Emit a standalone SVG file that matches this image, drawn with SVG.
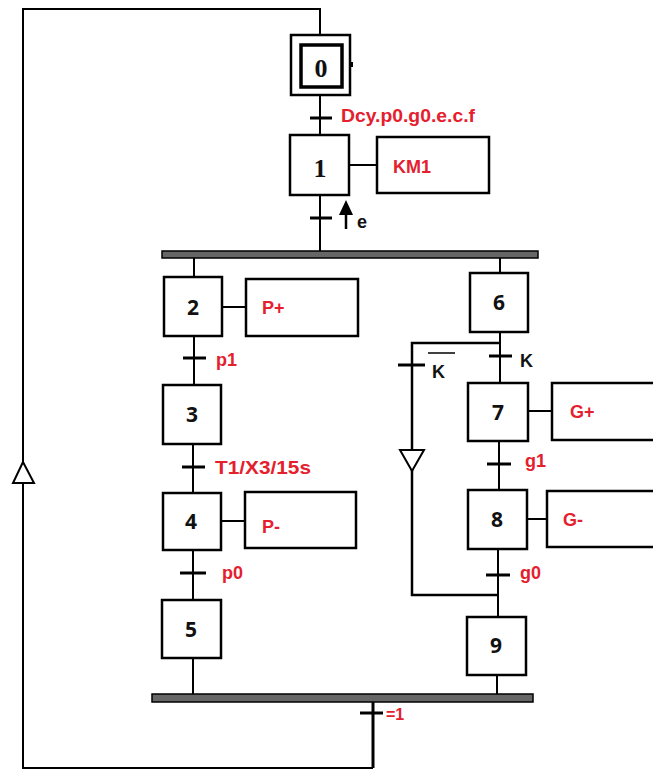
<svg xmlns="http://www.w3.org/2000/svg" width="653" height="770" viewBox="0 0 653 770">
<style>
.step{fill:#fff;stroke:#000;stroke-width:2.5}
.act{fill:#fff;stroke:#000;stroke-width:2.5}
.ln{fill:none;stroke:#000;stroke-width:2}
.tk{fill:none;stroke:#000;stroke-width:3}
.num{font-family:"Noto Sans","Liberation Sans",sans-serif;font-weight:bold;font-size:21px;fill:#111;text-anchor:middle}
.numS{font-family:"Liberation Serif",serif;font-weight:bold;font-size:26px;fill:#111;text-anchor:middle}
.lab{font-family:"Liberation Sans",Arial,sans-serif;font-weight:bold;font-size:18px;fill:#e5202e}
.labk{font-family:"Liberation Sans",Arial,sans-serif;font-weight:bold;font-size:18px;fill:#111}
.bar{fill:#666;stroke:#000;stroke-width:1.5}
</style>
<rect width="653" height="770" fill="#fff"/>
<g id="connectors">
  <polyline class="ln" points="320,35 320,9 23,9 23,768 373,768"/>
  <polygon points="23,462 13,483 34,483" fill="#fff" stroke="#000" stroke-width="2"/>
  <line class="ln" x1="320" y1="95" x2="320" y2="135"/>
  <line class="tk" x1="310" y1="118" x2="332" y2="118"/>
  <line class="ln" x1="320" y1="195" x2="320" y2="251"/>
  <line class="tk" x1="310" y1="218" x2="332" y2="218"/>
  <line class="ln" x1="349" y1="165" x2="377" y2="165"/>
  <line x1="346" y1="229" x2="346" y2="212" stroke="#000" stroke-width="2.5"/>
  <polygon points="346,200 339,215 353,215" fill="#000"/>
  <rect class="bar" x="162" y="251" width="376" height="7"/>
  <line class="ln" x1="194" y1="258" x2="194" y2="277"/>
  <line class="ln" x1="222" y1="307" x2="246" y2="307"/>
  <line class="ln" x1="194" y1="336" x2="194" y2="385"/>
  <line class="tk" x1="183" y1="358" x2="206" y2="358"/>
  <line class="ln" x1="193" y1="444" x2="193" y2="493"/>
  <line class="tk" x1="182" y1="467" x2="205" y2="467"/>
  <line class="ln" x1="221" y1="521" x2="245" y2="521"/>
  <line class="ln" x1="193" y1="550" x2="193" y2="600"/>
  <line class="tk" x1="180" y1="573" x2="206" y2="573"/>
  <line class="ln" x1="193" y1="658" x2="193" y2="694"/>
  <line class="ln" x1="500" y1="258" x2="500" y2="273"/>
  <line class="ln" x1="500" y1="332" x2="500" y2="383"/>
  <line class="tk" x1="489" y1="356" x2="512" y2="356"/>
  <polyline class="ln" points="500,343 412,343 412,595 499,595" style="stroke-width:2.5"/>
  <line class="tk" x1="398" y1="365" x2="425" y2="365"/>
  <polygon points="400,450 424,450 412,471" fill="#fff" stroke="#000" stroke-width="2"/>
  <line class="ln" x1="528" y1="411" x2="552" y2="411"/>
  <line class="ln" x1="499" y1="441" x2="499" y2="490"/>
  <line class="tk" x1="487" y1="464" x2="511" y2="464"/>
  <line class="ln" x1="527" y1="519" x2="547" y2="519"/>
  <line class="ln" x1="498" y1="549" x2="498" y2="617"/>
  <line class="tk" x1="486" y1="575" x2="510" y2="575"/>
  <line class="ln" x1="497" y1="675" x2="497" y2="694"/>
  <rect class="bar" x="152" y="694" width="381" height="8"/>
  <line x1="373" y1="702" x2="373" y2="768" stroke="#000" stroke-width="3"/>
  <line class="tk" x1="360" y1="713" x2="383" y2="713"/>
</g>
<g id="step0">
  <rect class="step" x="291" y="35" width="59" height="60"/>
  <rect x="301" y="45" width="41" height="42" fill="#fff" stroke="#000" stroke-width="3.5"/>
  <rect x="350" y="62" width="3" height="5" fill="#000"/>
  <text class="numS" x="321" y="77">0</text>
</g>
<g id="t0"><text class="lab" x="341" y="122" textLength="134" lengthAdjust="spacingAndGlyphs">Dcy.p0.g0.e.c.f</text></g>
<g id="step1">
  <rect class="step" x="290" y="135" width="59" height="60"/>
  <text class="numS" x="320" y="177">1</text>
</g>
<g id="action1">
  <rect class="act" x="377" y="137" width="112" height="56"/>
  <text class="lab" x="393" y="173">KM1</text>
</g>
<g id="t1"><text class="labk" x="357" y="228">e</text></g>
<g id="step2">
  <rect class="step" x="164" y="277" width="58" height="59"/>
  <text class="num" x="193" y="315">2</text>
</g>
<g id="action2">
  <rect class="act" x="246" y="279" width="112" height="57"/>
  <text class="lab" x="262" y="314">P+</text>
</g>
<g id="t2"><text class="lab" x="216" y="366">p1</text></g>
<g id="step3">
  <rect class="step" x="163" y="385" width="58" height="59"/>
  <text class="num" x="192" y="422">3</text>
</g>
<g id="t3"><text class="lab" x="215" y="474" textLength="96" lengthAdjust="spacingAndGlyphs">T1/X3/15s</text></g>
<g id="step4">
  <rect class="step" x="163" y="493" width="58" height="57"/>
  <text class="num" x="191" y="529">4</text>
</g>
<g id="action4">
  <rect class="act" x="245" y="492" width="111" height="56"/>
  <text class="lab" x="262" y="533">P-</text>
</g>
<g id="t4"><text class="lab" x="222" y="579">p0</text></g>
<g id="step5">
  <rect class="step" x="162" y="600" width="59" height="58"/>
  <text class="num" x="191" y="637">5</text>
</g>
<g id="step6">
  <rect class="step" x="470" y="273" width="58" height="59"/>
  <text class="num" x="499" y="310">6</text>
</g>
<g id="t6a"><text class="labk" x="520" y="367">K</text></g>
<g id="t6b">
  <line x1="428" y1="353" x2="455" y2="353" stroke="#000" stroke-width="1.5"/>
  <text class="labk" x="432" y="378">K</text>
</g>
<g id="step7">
  <rect class="step" x="468" y="383" width="60" height="58"/>
  <text class="num" x="498" y="420">7</text>
</g>
<g id="action7">
  <rect class="act" x="552" y="383" width="115" height="57"/>
  <text class="lab" x="570" y="418">G+</text>
</g>
<g id="t7"><text class="lab" x="525" y="467">g1</text></g>
<g id="step8">
  <rect class="step" x="468" y="490" width="59" height="59"/>
  <text class="num" x="497" y="527">8</text>
</g>
<g id="action8">
  <rect class="act" x="547" y="491" width="115" height="56"/>
  <text class="lab" x="563" y="526">G-</text>
</g>
<g id="t8"><text class="lab" x="520" y="579">g0</text></g>
<g id="step9">
  <rect class="step" x="467" y="617" width="59" height="58"/>
  <text class="num" x="496" y="653">9</text>
</g>
<g id="t9"><text class="lab" x="386" y="720" style="font-size:16px">=1</text></g>
</svg>
